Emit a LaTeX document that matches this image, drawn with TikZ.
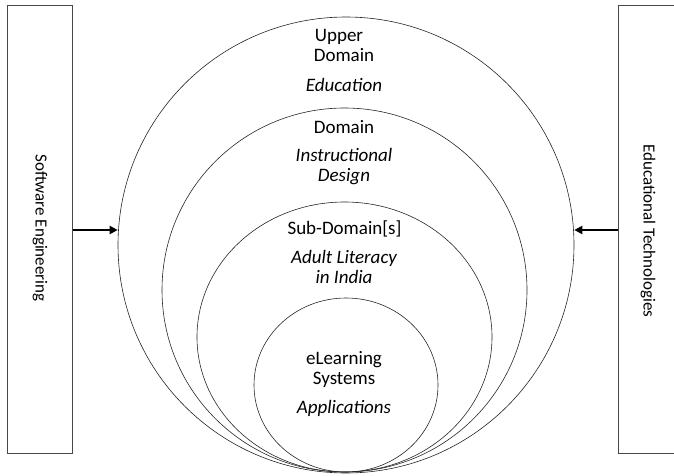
\documentclass[tikz,border=0pt]{standalone}
\usepackage{fontspec}
\setmainfont{Carlito}
\usetikzlibrary{shapes.geometric,arrows.meta}
\begin{document}
\begin{tikzpicture}[x=1pt,y=-1pt,
  ring/.style={draw=black!85,line width=0.6pt,ellipse,inner sep=0pt},
  sidebox/.style={draw=black!72,line width=1.1pt,inner sep=0pt,anchor=north west},
  feed/.style={line width=2.6pt,-{Triangle[length=8pt,width=8pt]}},
  lbl/.style={font=\fontsize{19}{20}\selectfont,anchor=base,inner sep=0pt},
  ilbl/.style={font=\fontsize{19}{20}\selectfont\itshape,anchor=base,inner sep=0pt},
  vlbl/.style={font=\fontsize{17}{18}\selectfont,rotate=-90,inner sep=0pt}]
\useasboundingbox (0,0) rectangle (674,476);
\clip (0,0) rectangle (674,476);
% side boxes
\node[sidebox,minimum width=65pt,minimum height=448pt] (se) at (7,5) {};
\node[sidebox,minimum width=66pt,minimum height=448pt] (et) at (618,5) {};
\node[vlbl] (setxt) at (40,228) {Software Engineering};
\node[vlbl] (ettxt) at (648,231) {Educational Technologies};
% nested domains
\node[ring,minimum width=456pt,minimum height=456pt] (outer) at (346,245) {};
\node[ring,minimum width=365pt,minimum height=364pt] (dom) at (344.5,290) {};
\node[ring,minimum width=295pt,minimum height=270pt] (sub) at (344.5,337) {};
\node[ring,minimum width=184pt,minimum height=174pt] (app) at (346,385) {};
% labels
\node[lbl] (t1) at (339,41.5) {Upper};
\node[lbl] (t2) at (344,62) {Domain};
\node[ilbl] (t3) at (344,92) {Education};
\node[lbl] (t4) at (344,133) {Domain};
\node[ilbl] (t5) at (344,161) {Instructional};
\node[ilbl] (t6) at (344,181) {Design};
\node[lbl] (t7) at (344.5,234) {Sub-Domain[s]};
\node[ilbl] (t8) at (344,263) {Adult Literacy};
\node[ilbl] (t9) at (344,283) {in India};
\node[lbl] (t10) at (344,364) {eLearning};
\node[lbl] (t11) at (344,384) {Systems};
\node[ilbl] (t12) at (344,413) {Applications};
% arrows
\draw[feed] (se.east |- 0,230) -- (outer.west |- 0,230);
\draw[feed] (et.west |- 0,230) -- (outer.east |- 0,230);
\end{tikzpicture}
\end{document}
